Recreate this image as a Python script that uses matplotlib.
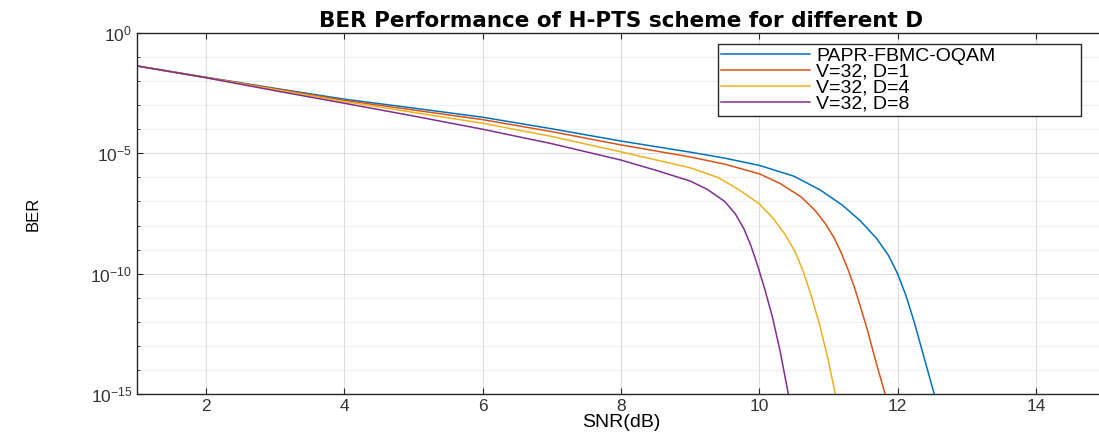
import numpy as np
import matplotlib
matplotlib.use('Agg')
import matplotlib.pyplot as plt
from matplotlib.ticker import FixedLocator, NullFormatter

# SNR (dB) and log10(BER)
snrBase = [1, 2, 3, 4, 5, 6, 7, 8, 9, 9.5, 10, 10.5, 10.88, 11.2, 11.46, 11.7, 11.87, 12.0, 12.12, 12.24, 12.38, 12.53]
logBerBase = [-1.37, -1.84, -2.3, -2.75, -3.12, -3.5, -3.98, -4.49, -4.95, -5.2, -5.5, -5.95, -6.52, -7.15, -7.8, -8.55, -9.25, -10.0, -10.9, -12.0, -13.45, -15.0]

snrD1 = [1, 2, 3, 4, 5, 6, 7, 8, 9, 9.5, 10, 10.3, 10.6, 10.8, 10.95, 11.08, 11.18, 11.28, 11.38, 11.47, 11.56, 11.68, 11.82]
logBerD1 = [-1.37, -1.85, -2.32, -2.8, -3.2, -3.6, -4.1, -4.65, -5.15, -5.45, -5.85, -6.25, -6.8, -7.35, -7.9, -8.5, -9.1, -9.8, -10.6, -11.45, -12.3, -13.6, -15.0]

snrD4 = [1, 2, 3, 4, 5, 6, 7, 8, 9, 9.4, 9.7, 10.0, 10.2, 10.38, 10.52, 10.64, 10.75, 10.87, 10.99, 11.1]
logBerD4 = [-1.37, -1.86, -2.35, -2.85, -3.3, -3.75, -4.3, -4.94, -5.6, -6.0, -6.5, -7.1, -7.7, -8.4, -9.1, -9.95, -10.9, -12.1, -13.5, -15.0]

snrD8 = [1, 2, 3, 4, 5, 6, 7, 8, 8.5, 9.0, 9.25, 9.5, 9.65, 9.78, 9.88, 9.98, 10.08, 10.19, 10.3, 10.42]
logBerD8 = [-1.37, -1.86, -2.4, -2.92, -3.45, -4.0, -4.6, -5.28, -5.7, -6.15, -6.5, -7.0, -7.5, -8.15, -8.85, -9.7, -10.65, -11.8, -13.2, -15.0]

labels = ['PAPR-FBMC-OQAM', 'V=32, D=1', 'V=32, D=4', 'V=32, D=8']
colors = ['#0072BD', '#D95319', '#EDB120', '#7E2F8E']

plt.rcParams['font.family'] = ['Liberation Sans', 'DejaVu Sans']

fig = plt.figure(figsize=(10.99, 4.41), dpi=100)
ax = fig.add_axes([137 / 1099, 47 / 441, 968 / 1099, 361 / 441])

series = [(snrBase, logBerBase), (snrD1, logBerD1), (snrD4, logBerD4), (snrD8, logBerD8)]
for (snr, logBer), lab, col in zip(series, labels, colors):
    ax.semilogy(snr, 10.0 ** np.array(logBer), color=col, linewidth=1.1, label=lab)

ax.set_xlim(1, 15)
ax.set_ylim(1e-15, 1e0)
ax.set_xticks(np.arange(2, 15, 2))
ax.yaxis.set_major_locator(FixedLocator([1e-15, 1e-10, 1e-5, 1e0]))
ax.yaxis.set_minor_locator(FixedLocator(10.0 ** np.arange(-15, 1)))
ax.yaxis.set_minor_formatter(NullFormatter())

ax.grid(True, which='major', color='#262626', alpha=0.15, linewidth=0.8)
ax.grid(True, which='minor', axis='y', color='#262626', alpha=0.07, linewidth=0.8)
ax.tick_params(which='both', direction='in', top=True, right=True, labelsize=12.5,
               colors='#262626', labelcolor='#333333')
ax.tick_params(which='major', length=4)
ax.tick_params(which='minor', length=2)
for sp in ax.spines.values():
    sp.set_color('#262626')
    sp.set_linewidth(1.0)

ax.set_title('BER Performance of H-PTS scheme for different D', fontsize=15.5,
             fontweight='bold', family='DejaVu Sans', pad=4)
ax.set_xlabel('SNR(dB)', fontsize=14, labelpad=0)
ax.set_ylabel('BER', fontsize=12, labelpad=36)

leg = ax.legend(loc='upper left', bbox_to_anchor=(0.600, 0.7675, 0.375, 0.202),
                mode='expand', borderaxespad=0, fontsize=14, handlelength=4.6,
                handletextpad=0.3, labelspacing=-0.08, fancybox=False,
                edgecolor='#262626', framealpha=1, borderpad=0.15)
leg.get_frame().set_linewidth(1.0)

fig.savefig('out.png', dpi=100)
